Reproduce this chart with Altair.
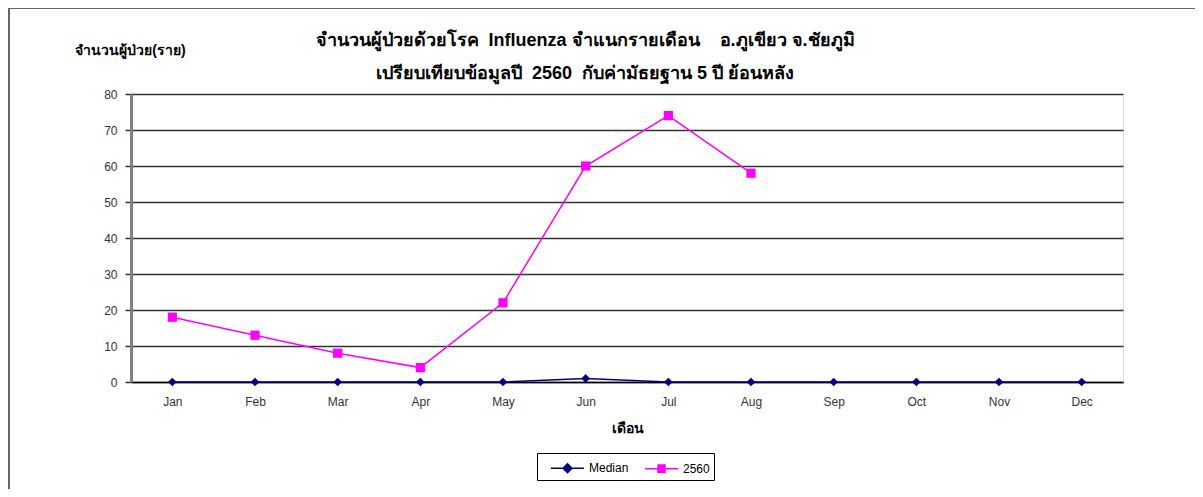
import altair as alt
import pandas as pd

months = ["Jan", "Feb", "Mar", "Apr", "May", "Jun", "Jul", "Aug", "Sep", "Oct", "Nov", "Dec"]
median_vals = [0, 0, 0, 0, 0, 1, 0, 0, 0, 0, 0, 0]
y2560_vals = [18, 13, 8, 4, 22, 60, 74, 58]
series_names = ["Median", "2560"]
series_colors = ["#000080", "#FF00FF"]
legend_paths = [
    "M-0.1,0H3.2M1.55,-0.45L2,0L1.55,0.45L1.1,0Z",
    "M-0.1,0H3.2M1.2,-0.36H1.9V0.36H1.2Z",
]
y_ticks = [0, 10, 20, 30, 40, 50, 60, 70, 80]

title_lines = [
    "จำนวนผู้ป่วยด้วยโรค\u00a0\u00a0Influenza จำแนกรายเดือน\u00a0\u00a0\u00a0\u00a0อ.ภูเขียว จ.ชัยภูมิ",
    "เปรียบเทียบข้อมูลปี\u00a0\u00a02560\u00a0\u00a0กับค่ามัธยฐาน 5 ปี ย้อนหลัง",
]
y_title = "จำนวนผู้ป่วย(ราย)"
x_title = "เดือน"

rows = []
for m, v in zip(months, median_vals):
    rows.append({"month": m, "value": v, "series": "Median"})
for m, v in zip(months, y2560_vals):
    rows.append({"month": m, "value": v, "series": "2560"})
df = pd.DataFrame(rows)

FONT = "Liberation Sans"

x_enc = alt.X(
    "month:N",
    sort=months,
    scale=alt.Scale(domain=months, padding=0.5),
    axis=alt.Axis(
        title=x_title,
        titleFontSize=14,
        titleFontWeight="bold",
        titleColor="#000",
        titlePadding=14,
        labelAngle=0,
        labelFontSize=12,
        labelColor="#333",
        labelFont=FONT,
        labelPadding=14,
        ticks=False,
        domainColor="#000",
        domainWidth=1.5,
        grid=False,
    ),
)
y_enc = alt.Y(
    "value:Q",
    scale=alt.Scale(domain=[0, 80], nice=False),
    axis=alt.Axis(
        values=y_ticks,
        title=y_title,
        titleAngle=0,
        titleAlign="center",
        titleBaseline="middle",
        titleX=-1,
        titleY=-44,
        titleFontSize=14,
        titleFontWeight="bold",
        titleColor="#000",
        labelFontSize=12,
        labelColor="#333",
        labelFont=FONT,
        labelPadding=8,
        tickSize=6,
        tickColor="#333",
        tickWidth=1.5,
        domainColor="#808080",
        domainWidth=3,
        grid=True,
        gridColor="#333",
        gridWidth=1.5,
    ),
)

layers = []
for name, col, shp, sz in zip(series_names, series_colors, ["diamond", "square"], [75, 85]):
    base = alt.Chart(df).transform_filter(alt.datum.series == name)
    layers.append(base.mark_line(strokeWidth=1.5, color=col).encode(x=x_enc, y=y_enc))
    layers.append(
        base.mark_point(shape=shp, filled=True, size=sz, color=col, opacity=1).encode(x=x_enc, y=y_enc)
    )

leg = alt.Legend(
    title=None,
    orient="none",
    legendX=406,
    legendY=359,
    direction="horizontal",
    strokeColor="#000",
    padding=4,
    symbolSize=400,
    symbolStrokeWidth=1.5,
    symbolOpacity=1,
    labelFontSize=12,
    labelFont=FONT,
    labelColor="#000",
    labelOffset=26,
    columnPadding=6,
)

legend_layer = alt.Chart(df).mark_point(filled=True, size=0, opacity=1).encode(
    x=x_enc,
    y=y_enc,
    fill=alt.Fill("series:N", scale=alt.Scale(domain=series_names, range=series_colors), legend=leg),
    stroke=alt.Stroke("series:N", scale=alt.Scale(domain=series_names, range=series_colors), legend=leg),
    shape=alt.Shape("series:N", scale=alt.Scale(domain=series_names, range=legend_paths), legend=leg),
)
layers.append(legend_layer)

frame_df = pd.DataFrame({"a": [0]})
layers.append(
    alt.Chart(frame_df).mark_rule(color="#666", strokeWidth=2).encode(
        x=alt.value(-122), x2=alt.value(1100), y=alt.value(-86)
    )
)
layers.append(
    alt.Chart(frame_df).mark_rule(color="#666", strokeWidth=2).encode(
        x=alt.value(-122), y=alt.value(-86), y2=alt.value(420)
    )
)

chart = alt.layer(*layers).properties(
    width=992,
    height=288,
    padding={"left": 123, "top": 86, "right": 72, "bottom": 107},
    autosize=alt.AutoSizeParams(type="none"),
    title=alt.Title(
        text=title_lines,
        fontSize=18,
        fontWeight="bold",
        color="#000",
        anchor="middle",
        frame="group",
        dx=-42,
        dy=86,
        offset=10,
        lineHeight=33,
    ),
).configure_view(strokeWidth=0).configure(background="white")

chart.save("out.html", embed_options={"renderer": "svg", "actions": False})
